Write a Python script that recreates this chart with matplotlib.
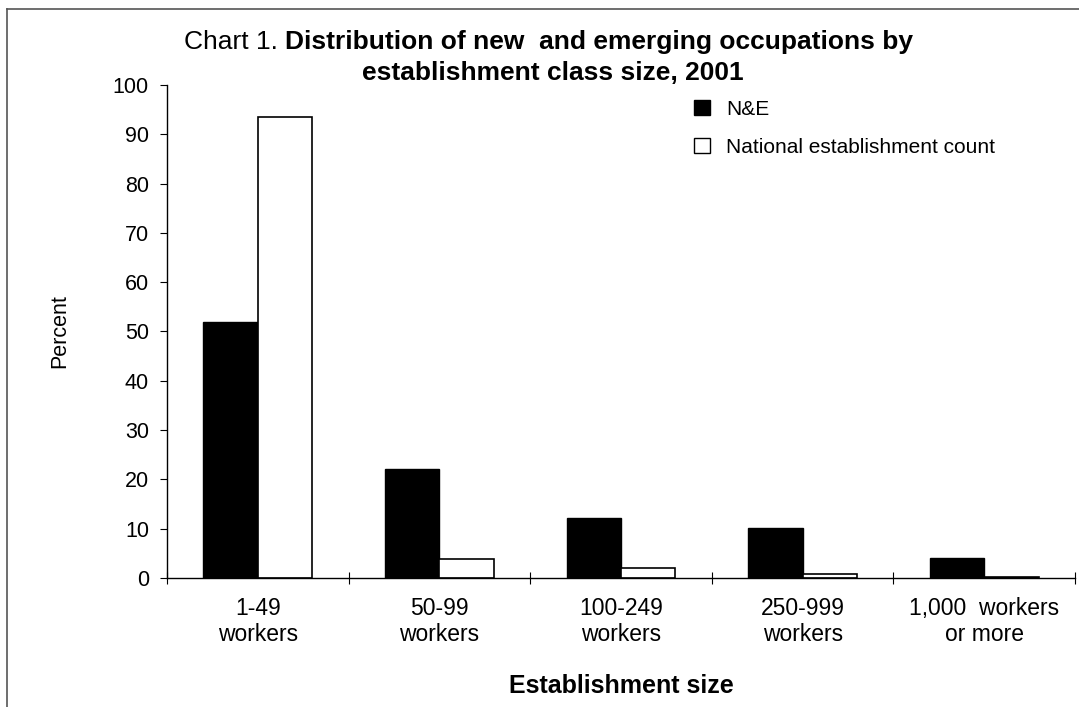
import matplotlib.pyplot as plt
from matplotlib.lines import Line2D
from matplotlib.patches import Patch
import numpy as np

plt.rcParams['font.family'] = ['Liberation Sans', 'DejaVu Sans']

# data
categories = ["1-49\nworkers", "50-99\nworkers", "100-249\nworkers",
              "250-999\nworkers", "1,000  workers\nor more"]
ne_values = [52, 22.1, 12.1, 10.1, 4.1]
national_values = [93.5, 3.8, 2.1, 0.9, 0.2]
yticks = [0, 10, 20, 30, 40, 50, 60, 70, 80, 90, 100]

fig = plt.figure(figsize=(10.79, 7.07), dpi=100)
ax = fig.add_axes([0.1548, 0.1825, 0.8415, 0.6973])

x = np.arange(len(categories))
w = 0.3
ax.bar(x - w / 2, ne_values, width=w, color='black', edgecolor='black', linewidth=1)
ax.bar(x + w / 2, national_values, width=w, color='white', edgecolor='black', linewidth=1.2)

ax.set_xlim(-0.5, len(categories) - 0.5)
ax.set_ylim(0, 100)

# spines
ax.spines['top'].set_visible(False)
ax.spines['right'].set_visible(False)
ax.spines['left'].set_linewidth(1)
ax.spines['bottom'].set_linewidth(1)

ax.set_yticks(yticks)
ax.tick_params(axis='y', labelsize=15.5, length=5, width=0.8, pad=8)

# category labels at centres, ticks at boundaries
ax.set_xticks(x)
ax.set_xticklabels(categories, fontsize=16.5, linespacing=1.15)
ax.tick_params(axis='x', which='major', length=0, pad=14)
ax.set_xticks(np.arange(len(categories) + 1) - 0.5, minor=True)
ax.tick_params(axis='x', which='minor', direction='inout', length=8, width=0.8)

ax.set_ylabel("Percent", fontsize=15.5, labelpad=31)
ax.set_xlabel("Establishment size", fontsize=18, fontweight='bold', labelpad=20)

# title with mixed weights
fig.text(285 / 1079, 1 - 42 / 707, "Chart 1. ", fontsize=19, ha='right', va='center')
fig.text(285 / 1079, 1 - 42 / 707, "Distribution of new  and emerging occupations by",
         fontsize=19, fontweight='bold', ha='left', va='center')
fig.text(553 / 1079, 1 - 73 / 707, "establishment class size, 2001",
         fontsize=19, fontweight='bold', ha='center', va='center')

# legend
handles = [Patch(facecolor='black', edgecolor='black', linewidth=1),
           Patch(facecolor='white', edgecolor='black', linewidth=1)]
ax.legend(handles, ["N&E", "National establishment count"], loc='upper left',
          bbox_to_anchor=(694 / 1079, 1 - 100 / 707), bbox_transform=fig.transFigure,
          frameon=False, fontsize=15, handlelength=0.75, handleheight=0.72,
          handletextpad=0.8, labelspacing=0.9, borderaxespad=0, borderpad=0)

# outer frame (top and left edges)
fig.add_artist(Line2D([7 / 1079, 1], [1 - 9 / 707, 1 - 9 / 707], transform=fig.transFigure,
                      color='#555555', linewidth=1.2))
fig.add_artist(Line2D([7 / 1079, 7 / 1079], [0, 1 - 9 / 707], transform=fig.transFigure,
                      color='#555555', linewidth=1.2))

fig.savefig("out.png", dpi=100)
